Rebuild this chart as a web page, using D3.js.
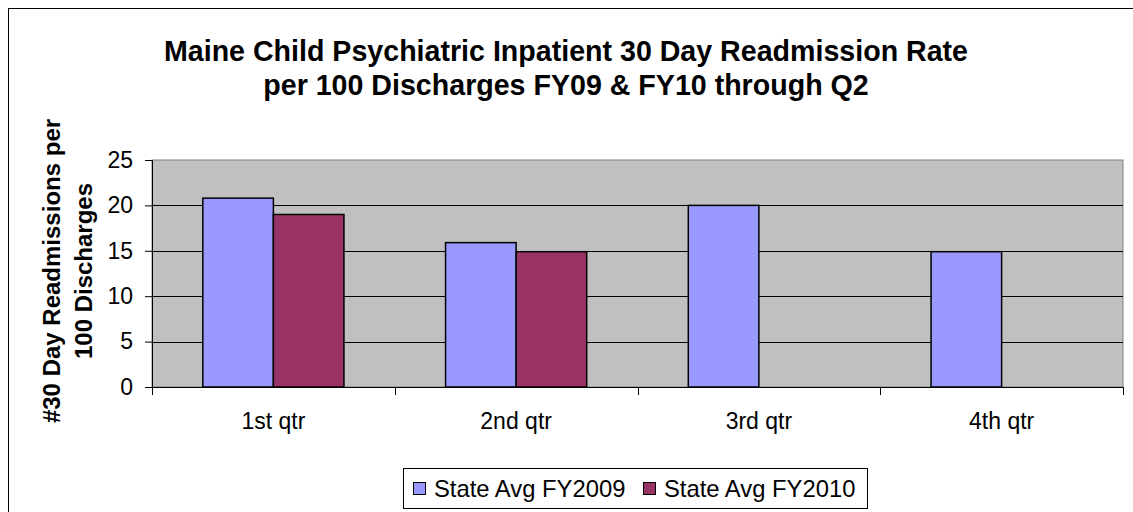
<!DOCTYPE html>
<html>
<head>
<meta charset="utf-8" />
<style>
    body { margin: 0; background: white; }
    text { font-family: "Liberation Sans", Arial, sans-serif; }
</style>
<script src="https://d3js.org/d3.v7.min.js"></script>
</head>
<body>
<script>
    var categories = ["1st qtr", "2nd qtr", "3rd qtr", "4th qtr"];
    var seriesNames = ["State Avg FY2009", "State Avg FY2010"];
    var fy2009 = [20.8, 15.9, 20.0, 14.9];
    var fy2010 = [19.0, 14.9, null, null];
    var yTicks = [0, 5, 10, 15, 20, 25];
    var colors = ["#9999FF", "#993366"];

    var width = 1133, height = 512;
    var plot = { left: 152, right: 1123, top: 160, bottom: 387 };

    var svg = d3.select("body").append("svg")
        .attr("width", width)
        .attr("height", height);

    // chart border
    svg.append("rect")
        .attr("x", 8.5).attr("y", 8.5)
        .attr("width", 1140).attr("height", 520)
        .attr("fill", "white").attr("stroke", "black").attr("stroke-width", 1);

    var x0 = d3.scaleBand().domain(categories).range([plot.left, plot.right]).padding(0);
    var x1 = d3.scaleBand().domain(seriesNames).range([0, x0.bandwidth()]).paddingInner(0).paddingOuter(0.72);
    var y = d3.scaleLinear().domain([0, 25]).range([plot.bottom, plot.top]);

    // plot background
    svg.append("rect")
        .attr("x", plot.left).attr("y", plot.top)
        .attr("width", plot.right - plot.left).attr("height", plot.bottom - plot.top)
        .attr("fill", "#C0C0C0").attr("stroke", "#808080").attr("stroke-width", 1);

    // gridlines
    svg.append("g").selectAll("line")
        .data(yTicks.filter(function (d) { return d > 0 && d < 25; }))
        .enter().append("line")
        .attr("x1", plot.left).attr("x2", plot.right)
        .attr("y1", function (d) { return Math.round(y(d)) + 0.5; })
        .attr("y2", function (d) { return Math.round(y(d)) + 0.5; })
        .attr("stroke", "black").attr("stroke-width", 1);

    // bars
    var rows = categories.map(function (c, i) {
        return { cat: c, values: [
            { name: seriesNames[0], v: fy2009[i], color: colors[0] },
            { name: seriesNames[1], v: fy2010[i], color: colors[1] }
        ] };
    });
    svg.append("g").selectAll("g")
        .data(rows)
        .enter().append("g")
        .attr("transform", function (d) { return "translate(" + x0(d.cat) + ",0)"; })
        .selectAll("rect")
        .data(function (d) { return d.values.filter(function (s) { return s.v != null; }); })
        .enter().append("rect")
        .attr("x", function (d) { return x1(d.name); })
        .attr("y", function (d) { return y(d.v); })
        .attr("width", x1.bandwidth())
        .attr("height", function (d) { return y(0) - y(d.v); })
        .attr("fill", function (d) { return d.color; })
        .attr("stroke", "black").attr("stroke-width", 1.5);

    // y axis
    var yAxis = d3.axisLeft(y).tickValues(yTicks).tickSize(7).tickPadding(12);
    var gy = svg.append("g").attr("transform", "translate(" + plot.left + ",0)").call(yAxis);
    gy.select(".domain").attr("stroke", "black");
    gy.selectAll("text").attr("font-size", "23px").attr("fill", "black");

    // x axis
    var xAxis = d3.axisBottom(x0).tickSize(0).tickPadding(26);
    var gx = svg.append("g").attr("transform", "translate(0," + plot.bottom + ")").call(xAxis);
    gx.select(".domain").remove();
    gx.selectAll("text").attr("font-size", "23px").attr("fill", "black");
    svg.append("line")
        .attr("x1", plot.left).attr("x2", plot.right)
        .attr("y1", plot.bottom + 0.5).attr("y2", plot.bottom + 0.5)
        .attr("stroke", "black");
    // category boundary ticks
    svg.append("g").selectAll("line")
        .data(categories.concat([null]))
        .enter().append("line")
        .attr("x1", function (d, i) { return Math.round(plot.left + i * x0.step()) + 0.5; })
        .attr("x2", function (d, i) { return Math.round(plot.left + i * x0.step()) + 0.5; })
        .attr("y1", plot.bottom).attr("y2", plot.bottom + 8)
        .attr("stroke", "black");

    // title
    var title = svg.append("text")
        .attr("text-anchor", "middle")
        .attr("font-size", "28.6px").attr("font-weight", "bold");
    title.append("tspan").attr("x", 566).attr("y", 61).text("Maine Child Psychiatric Inpatient 30 Day Readmission Rate");
    title.append("tspan").attr("x", 566).attr("y", 95).text("per 100 Discharges FY09 & FY10 through Q2");

    // y axis label
    var ylab = svg.append("text")
        .attr("transform", "translate(0,271) rotate(-90)")
        .attr("text-anchor", "middle")
        .attr("font-size", "24px").attr("font-weight", "bold");
    ylab.append("tspan").attr("x", 0).attr("y", 60).text("#30 Day Readmissions per");
    ylab.append("tspan").attr("x", 0).attr("y", 92).text("100 Discharges");

    // legend
    var legend = svg.append("g");
    legend.append("rect")
        .attr("x", 403.5).attr("y", 468.5).attr("width", 464).attr("height", 40)
        .attr("fill", "white").attr("stroke", "black");
    var legendX = [413, 643];
    var items = legend.selectAll("g.item")
        .data(seriesNames)
        .enter().append("g").attr("class", "item")
        .attr("transform", function (d, i) { return "translate(" + legendX[i] + ",0)"; });
    items.append("rect")
        .attr("x", 0.5).attr("y", 482.5).attr("width", 12).attr("height", 12)
        .attr("fill", function (d, i) { return colors[i]; })
        .attr("stroke", "black");
    items.append("text")
        .attr("x", 21).attr("y", 497)
        .attr("font-size", "23.8px")
        .text(function (d) { return d; });
</script>
</body>
</html>
